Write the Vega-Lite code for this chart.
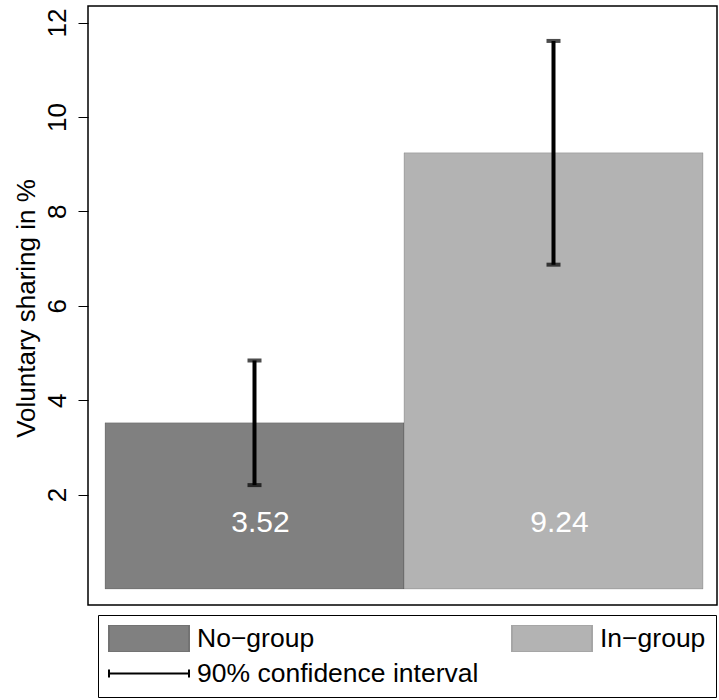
{
  "$schema": "https://vega.github.io/schema/vega-lite/v6.json",
  "width": 629,
  "height": 599,
  "autosize": {"type": "none"},
  "padding": {"left": 88, "top": 6, "right": 2, "bottom": 95},
  "background": "white",
  "config": {"view": {"stroke": "black", "strokeWidth": 1.5}, "font": "Liberation Sans"},
  "data": {"values": [
    {"group": "No−group", "share": 3.52, "lo": 2.2, "hi": 4.84},
    {"group": "In−group", "share": 9.24, "lo": 6.87, "hi": 11.61}
  ]},
  "encoding": {
    "x": {"field": "group", "type": "nominal", "sort": null,
          "scale": {"type": "band", "range": [17, 615], "paddingInner": 0, "paddingOuter": 0},
          "axis": null}
  },
  "layer": [
    {
      "mark": {"type": "bar", "stroke": "black", "strokeOpacity": 0.15, "strokeWidth": 1},
      "encoding": {
        "y": {"field": "share", "type": "quantitative",
              "scale": {"domain": [-0.34, 12.35], "nice": false, "zero": false},
              "axis": {"values": [2, 4, 6, 8, 10, 12], "domain": false, "grid": false,
                       "tickSize": 10, "tickColor": "black", "tickWidth": 1,
                       "labelAngle": 270, "labelAlign": "center", "labelBaseline": "alphabetic",
                       "labelPadding": 13, "labelFontSize": 26, "labelColor": "black", "labelFont": "Liberation Sans",
                       "title": "Voluntary sharing in %", "titleFontSize": 26, "titleFontWeight": "normal",
                       "titleColor": "black", "titleFont": "Liberation Sans", "titleAngle": 270,
                       "titleBaseline": "alphabetic", "titleAlign": "center", "titleX": -54, "titleY": 302}},
        "y2": {"datum": 0},
        "fill": {"field": "group", "type": "nominal",
          "scale": {"domain": ["No−group", "In−group", "90% confidence interval"],
                    "range": ["#808080", "#b3b3b3", "#000000"]}
        }
      }
    },
    {
      "mark": {"type": "rule", "strokeWidth": 4, "color": "black"},
      "encoding": {
        "y": {"field": "lo", "type": "quantitative"},
        "y2": {"field": "hi"}
      }
    },
    {
      "mark": {"type": "tick", "thickness": 4, "size": 14, "color": "black"},
      "encoding": {"y": {"field": "lo", "type": "quantitative"}}
    },
    {
      "mark": {"type": "tick", "thickness": 4, "size": 14, "color": "black"},
      "encoding": {"y": {"field": "hi", "type": "quantitative"}}
    },
    {
      "mark": {"type": "text", "color": "white", "fontSize": 30, "dx": 6, "baseline": "alphabetic", "font": "Liberation Sans"},
      "encoding": {
        "y": {"datum": 1.21},
        "text": {"field": "share", "type": "quantitative", "format": ".2f"}
      }
    },
    {
      "transform": [{"filter": "false"}],
      "mark": {"type": "point", "filled": true, "opacity": 1, "strokeWidth": 2},
      "encoding": {
        "y": {"field": "share", "type": "quantitative"},
        "fill": {"field": "group", "type": "nominal",
          "legend": {
            "title": null, "orient": "none", "legendX": 10, "legendY": 609,
            "direction": "horizontal",
            "columns": 2, "columnPadding": 32, "rowPadding": 8, "padding": 10,
            "strokeColor": "black", "symbolSize": 6400, "symbolStrokeWidth": 2,
            "symbolOpacity": 1, "symbolFillOpacity": 1,
            "clipHeight": 27, "labelFontSize": 26.5, "labelFont": "Liberation Sans",
            "labelColor": "black", "labelOffset": 7, "labelLimit": 500
          }
        },
        "stroke": {"field": "group", "type": "nominal",
          "scale": {"domain": ["No−group", "In−group", "90% confidence interval"],
                    "range": ["#737373", "#a6a6a6", "#000000"]}
        },
        "shape": {"field": "group", "type": "nominal",
          "scale": {"domain": ["No−group", "In−group", "90% confidence interval"],
                    "range": ["M-1,-0.3375H1V0.3375H-1Z", "M-1,-0.3375H1V0.3375H-1Z", "M-1,-0.1V0.1M-1,0H1M1,-0.1V0.1"]}
        }
      }
    }
  ]
}
